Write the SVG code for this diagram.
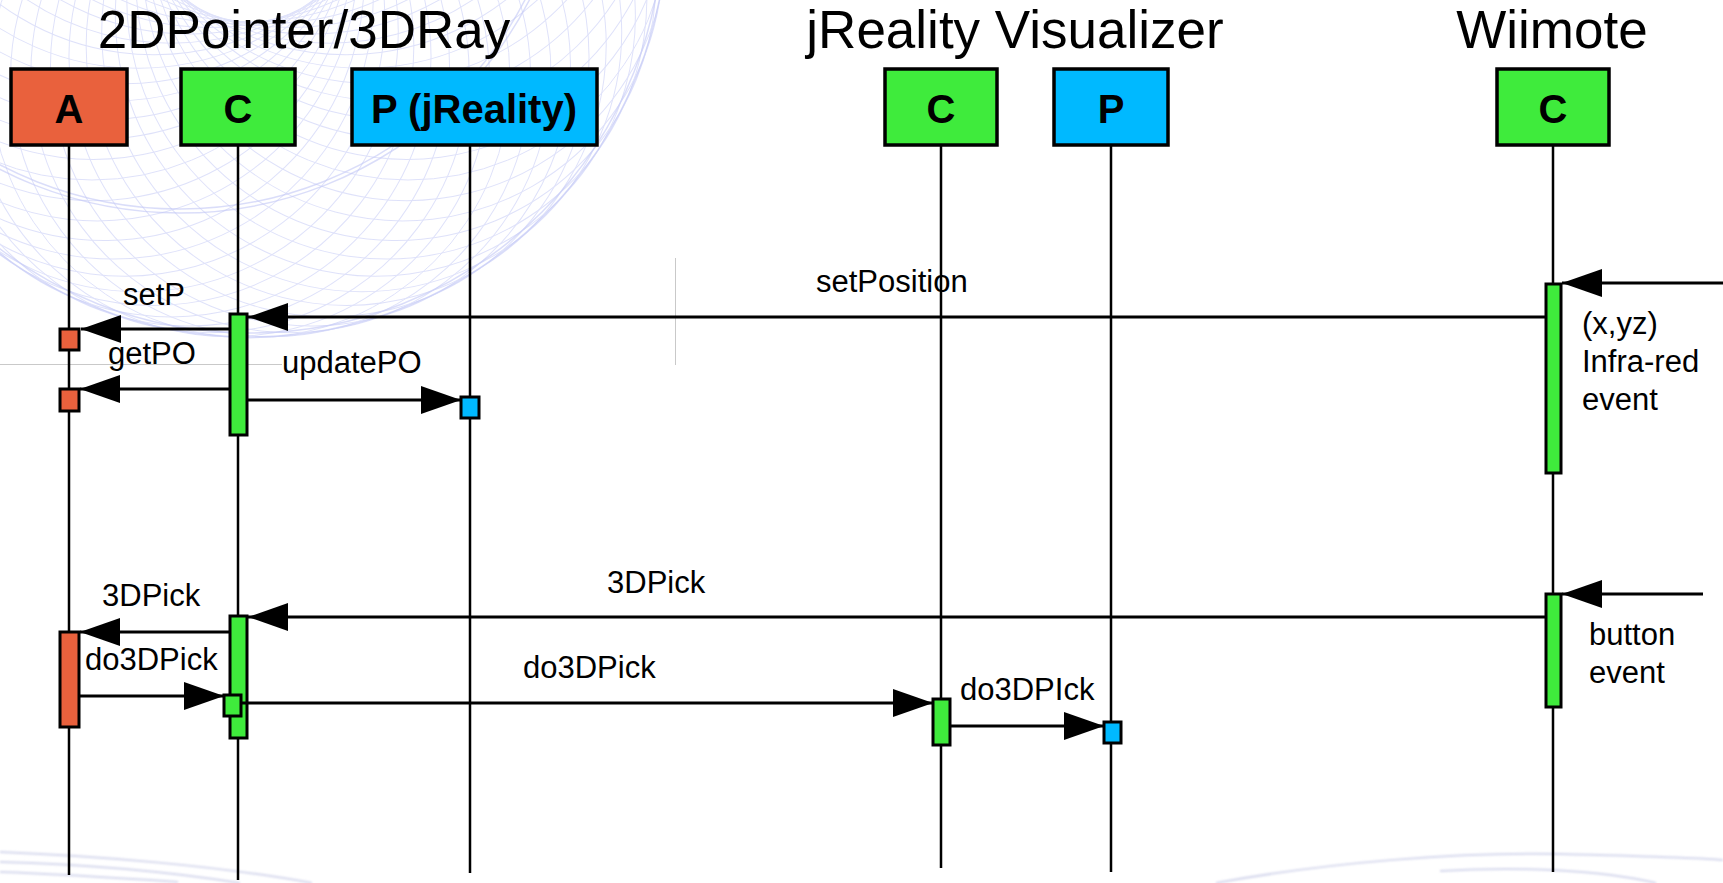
<svg xmlns="http://www.w3.org/2000/svg" xmlns:xlink="http://www.w3.org/1999/xlink" width="1723" height="883" viewBox="0 0 1723 883">
  <style>
    .title { font-family: "Liberation Sans", Arial, sans-serif; font-size: 53px; fill: #000; text-anchor: middle; }
    .head { font-family: "Liberation Sans", Arial, sans-serif; font-size: 40px; font-weight: bold; fill: #000; text-anchor: middle; }
    .lbl { font-family: "Liberation Sans", Arial, sans-serif; font-size: 31px; fill: #000; }
    .box { stroke: #000; stroke-width: 3.5; }
    .bar { stroke: #000; stroke-width: 3; }
    .red { fill: #E9613D; }
    .grn { fill: #3FEB3C; }
    .blu { fill: #00B9FF; }
    .life { stroke: #000; stroke-width: 2.5; fill: none; }
    .msg { stroke: #000; stroke-width: 3; fill: none; marker-end: url(#ah); }
    .guide { stroke: #c9c9c9; stroke-width: 1; fill: none; }
    .spiro { fill: none; stroke: #b3baf3; stroke-width: 1; opacity: 0.42; }
    .rim { fill: none; stroke: #c3c8f6; stroke-width: 1.5; opacity: 0.6; }
    .swoosh { fill: none; stroke: #b9bde0; stroke-width: 2; opacity: 0.6; }
  </style>
  <defs>
    <marker id="ah" viewBox="0 0 40 28" refX="40" refY="14" markerWidth="40" markerHeight="28" markerUnits="userSpaceOnUse" orient="auto">
      <path d="M0,0 L40,14 L0,28 Z" fill="#000"/>
    </marker>
    <circle id="sp" cx="408" cy="-80" r="260"/>
    <filter id="soft" x="-5%" y="-50%" width="110%" height="200%">
      <feGaussianBlur stdDeviation="1.2"/>
    </filter>
  </defs>

  <rect width="1723" height="883" fill="#fff"/>

  <!-- decorative spirograph backdrop: circles rolled around (250,-80) -->
  <g id="backdrop">
    <g class="spiro">
      <use xlink:href="#sp" transform="rotate(0 250 -80)"/>
      <use xlink:href="#sp" transform="rotate(7.5 250 -80)"/>
      <use xlink:href="#sp" transform="rotate(15 250 -80)"/>
      <use xlink:href="#sp" transform="rotate(22.5 250 -80)"/>
      <use xlink:href="#sp" transform="rotate(30 250 -80)"/>
      <use xlink:href="#sp" transform="rotate(37.5 250 -80)"/>
      <use xlink:href="#sp" transform="rotate(45 250 -80)"/>
      <use xlink:href="#sp" transform="rotate(52.5 250 -80)"/>
      <use xlink:href="#sp" transform="rotate(60 250 -80)"/>
      <use xlink:href="#sp" transform="rotate(67.5 250 -80)"/>
      <use xlink:href="#sp" transform="rotate(75 250 -80)"/>
      <use xlink:href="#sp" transform="rotate(82.5 250 -80)"/>
      <use xlink:href="#sp" transform="rotate(90 250 -80)"/>
      <use xlink:href="#sp" transform="rotate(97.5 250 -80)"/>
      <use xlink:href="#sp" transform="rotate(105 250 -80)"/>
      <use xlink:href="#sp" transform="rotate(112.5 250 -80)"/>
      <use xlink:href="#sp" transform="rotate(120 250 -80)"/>
      <use xlink:href="#sp" transform="rotate(127.5 250 -80)"/>
      <use xlink:href="#sp" transform="rotate(135 250 -80)"/>
      <use xlink:href="#sp" transform="rotate(142.5 250 -80)"/>
      <use xlink:href="#sp" transform="rotate(150 250 -80)"/>
      <use xlink:href="#sp" transform="rotate(157.5 250 -80)"/>
      <use xlink:href="#sp" transform="rotate(165 250 -80)"/>
      <use xlink:href="#sp" transform="rotate(172.5 250 -80)"/>
      <use xlink:href="#sp" transform="rotate(180 250 -80)"/>
      <use xlink:href="#sp" transform="rotate(187.5 250 -80)"/>
      <use xlink:href="#sp" transform="rotate(195 250 -80)"/>
      <use xlink:href="#sp" transform="rotate(202.5 250 -80)"/>
      <use xlink:href="#sp" transform="rotate(210 250 -80)"/>
      <use xlink:href="#sp" transform="rotate(217.5 250 -80)"/>
      <use xlink:href="#sp" transform="rotate(225 250 -80)"/>
      <use xlink:href="#sp" transform="rotate(232.5 250 -80)"/>
      <use xlink:href="#sp" transform="rotate(240 250 -80)"/>
      <use xlink:href="#sp" transform="rotate(247.5 250 -80)"/>
      <use xlink:href="#sp" transform="rotate(255 250 -80)"/>
      <use xlink:href="#sp" transform="rotate(262.5 250 -80)"/>
      <use xlink:href="#sp" transform="rotate(270 250 -80)"/>
      <use xlink:href="#sp" transform="rotate(277.5 250 -80)"/>
      <use xlink:href="#sp" transform="rotate(285 250 -80)"/>
      <use xlink:href="#sp" transform="rotate(292.5 250 -80)"/>
      <use xlink:href="#sp" transform="rotate(300 250 -80)"/>
      <use xlink:href="#sp" transform="rotate(307.5 250 -80)"/>
      <use xlink:href="#sp" transform="rotate(315 250 -80)"/>
      <use xlink:href="#sp" transform="rotate(322.5 250 -80)"/>
      <use xlink:href="#sp" transform="rotate(330 250 -80)"/>
      <use xlink:href="#sp" transform="rotate(337.5 250 -80)"/>
      <use xlink:href="#sp" transform="rotate(345 250 -80)"/>
      <use xlink:href="#sp" transform="rotate(352.5 250 -80)"/>
    </g>
    <g class="rim">
      <circle cx="250" cy="-80" r="417"/>
      <circle cx="250" cy="-80" r="413"/>
      <circle cx="180" cy="-180" r="393"/>
      <circle cx="180" cy="-180" r="389"/>
    </g>
  </g>

  <!-- faint arcs along the bottom edge -->
  <g id="bottom-arcs" class="swoosh" filter="url(#soft)">
    <path d="M0,852 C100,856 220,866 312,883"/>
    <path d="M0,862 C80,864 170,872 240,883"/>
    <path d="M0,872 C60,874 120,878 178,882"/>
    <path d="M1216,883 C1330,862 1460,852 1560,854 C1640,856 1700,858 1723,860"/>
    <path d="M1440,871 C1520,866 1600,870 1656,883"/>
  </g>

  <!-- layout guides -->
  <g id="guides" class="guide">
    <line x1="0" y1="364.5" x2="282" y2="364.5"/>
    <line x1="675.5" y1="258" x2="675.5" y2="365"/>
  </g>

  <!-- group titles -->
  <g id="titles">
    <text class="title" x="304" y="48">2DPointer/3DRay</text>
    <text class="title" x="1015" y="48">jReality Visualizer</text>
    <text class="title" x="1552" y="48">Wiimote</text>
  </g>

  <!-- lifelines -->
  <g id="lifelines" class="life">
    <line x1="69" y1="145" x2="69" y2="875"/>
    <line x1="238" y1="145" x2="238" y2="880"/>
    <line x1="470" y1="145" x2="470" y2="873"/>
    <line x1="941" y1="145" x2="941" y2="868"/>
    <line x1="1111" y1="145" x2="1111" y2="872"/>
    <line x1="1553" y1="145" x2="1553" y2="872"/>
  </g>

  <!-- participants -->
  <g id="node-a">
    <rect class="box red" x="11" y="69" width="116" height="76"/>
    <text class="head" x="69" y="123">A</text>
  </g>
  <g id="node-c-pointer">
    <rect class="box grn" x="181" y="69" width="114" height="76"/>
    <text class="head" x="238" y="123">C</text>
  </g>
  <g id="node-p-jreality">
    <rect class="box blu" x="352" y="69" width="245" height="76"/>
    <text class="head" x="474" y="123">P (jReality)</text>
  </g>
  <g id="node-c-visualizer">
    <rect class="box grn" x="885" y="69" width="112" height="76"/>
    <text class="head" x="941" y="123">C</text>
  </g>
  <g id="node-p-visualizer">
    <rect class="box blu" x="1054" y="69" width="114" height="76"/>
    <text class="head" x="1111" y="123">P</text>
  </g>
  <g id="node-c-wiimote">
    <rect class="box grn" x="1497" y="69" width="112" height="76"/>
    <text class="head" x="1553" y="123">C</text>
  </g>

  <!-- activation bars -->
  <g id="activations">
    <rect class="bar grn" x="1546" y="284" width="15" height="189"/>
    <rect class="bar grn" x="230" y="314" width="17" height="121"/>
    <rect class="bar red" x="60" y="329" width="19" height="21"/>
    <rect class="bar red" x="60" y="389" width="19" height="22"/>
    <rect class="bar blu" x="461" y="397" width="18" height="21"/>
    <rect class="bar grn" x="1546" y="594" width="15" height="113"/>
    <rect class="bar grn" x="230" y="616" width="17" height="122"/>
    <rect class="bar red" x="60" y="632" width="19" height="95"/>
    <rect class="bar grn" x="224" y="695" width="17" height="21"/>
    <rect class="bar grn" x="933" y="699" width="17" height="46"/>
    <rect class="bar blu" x="1104" y="722" width="17" height="21"/>
  </g>

  <!-- messages -->
  <g id="connectors">
    <line class="msg" x1="1723" y1="283" x2="1562" y2="283"/>
    <line class="msg" x1="1546" y1="317" x2="248" y2="317"/>
    <line class="msg" x1="230" y1="329" x2="81" y2="329"/>
    <line class="msg" x1="230" y1="389" x2="80" y2="389"/>
    <line class="msg" x1="247" y1="400" x2="461" y2="400"/>
    <line class="msg" x1="1703" y1="594" x2="1562" y2="594"/>
    <line class="msg" x1="1546" y1="617" x2="248" y2="617"/>
    <line class="msg" x1="230" y1="632" x2="80" y2="632"/>
    <line class="msg" x1="80" y1="696" x2="224" y2="696"/>
    <line class="msg" x1="241" y1="703" x2="933" y2="703"/>
    <line class="msg" x1="950" y1="726" x2="1104" y2="726"/>
  </g>

  <!-- message labels and notes -->
  <g id="labels">
    <text class="lbl" x="816" y="292">setPosition</text>
    <text class="lbl" x="123" y="305">setP</text>
    <text class="lbl" x="108" y="364">getPO</text>
    <text class="lbl" x="282" y="373">updatePO</text>
    <text class="lbl" x="1582" y="334">(x,yz)</text>
    <text class="lbl" x="1582" y="372">Infra-red</text>
    <text class="lbl" x="1582" y="410">event</text>
    <text class="lbl" x="607" y="593">3DPick</text>
    <text class="lbl" x="102" y="606">3DPick</text>
    <text class="lbl" x="85" y="670">do3DPick</text>
    <text class="lbl" x="523" y="678">do3DPick</text>
    <text class="lbl" x="960" y="700">do3DPIck</text>
    <text class="lbl" x="1589" y="645">button</text>
    <text class="lbl" x="1589" y="683">event</text>
  </g>
</svg>
